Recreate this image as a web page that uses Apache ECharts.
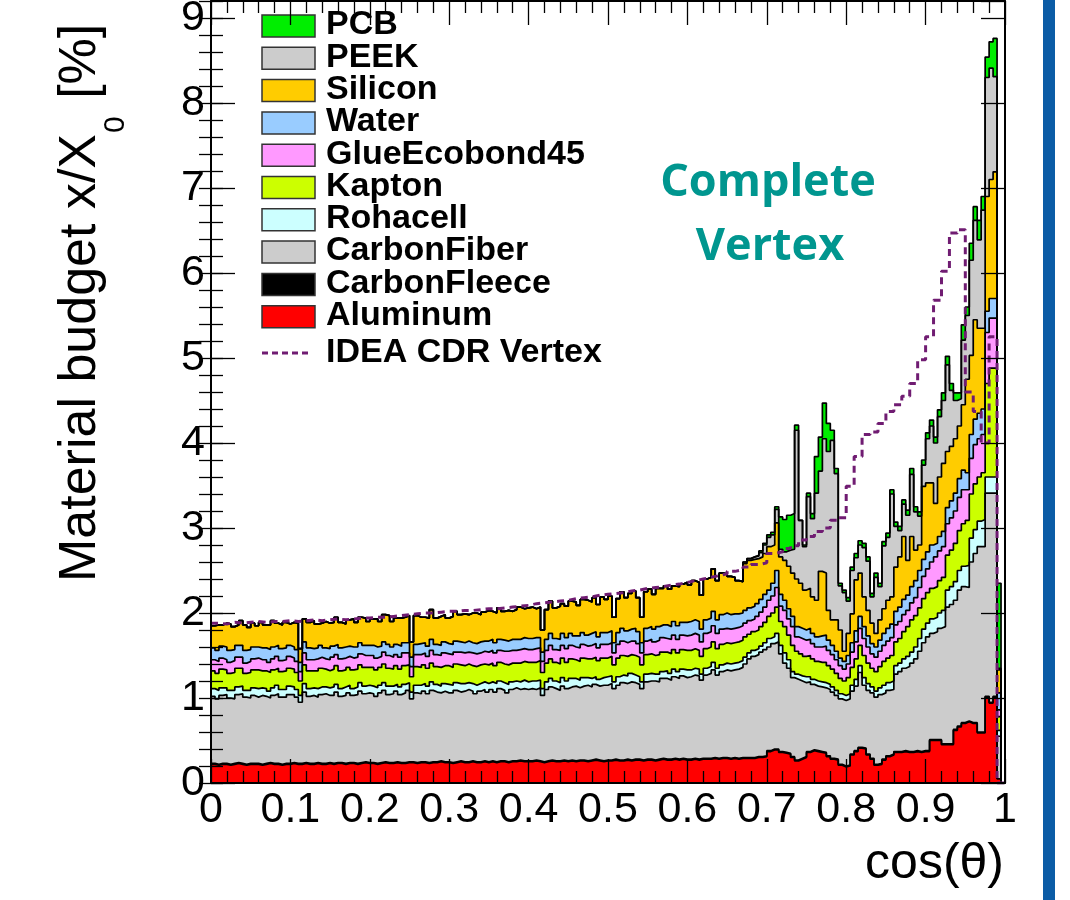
<!DOCTYPE html>
<html><head><meta charset="utf-8">
<script src="https://cdn.jsdelivr.net/npm/echarts@6/dist/echarts.min.js"></script>
<style>html,body{margin:0;padding:0;background:#fff}#chart{width:1070px;height:900px}</style>
</head><body><div id="chart"></div>
<script>
// ---- data: 200 bins of width 0.005 in cos(theta) ----
const binWidth = 0.005;
const xTickLabels = ['0','0.1','0.2','0.3','0.4','0.5','0.6','0.7','0.8','0.9','1'];
const yTickLabels = ['0','1','2','3','4','5','6','7','8','9'];
const legendNames = ['PCB','PEEK','Silicon','Water','GlueEcobond45','Kapton','Rohacell','CarbonFiber','CarbonFleece','Aluminum'];
const legendColors = ['#00ee00','#cccccc','#ffcc00','#99ccff','#ff99ff','#ccff00','#ccffff','#cccccc','#000000','#ff0000'];

const aluminum = [
.22,.21,.22,.22,.21,.22,.23,.22,.21,.22,
.22,.22,.21,.22,.23,.22,.22,.21,.22,.22,
.23,.22,.22,.23,.22,.22,.23,.22,.22,.23,
.22,.23,.23,.22,.23,.23,.22,.23,.24,.23,
.23,.22,.23,.24,.23,.23,.24,.23,.23,.24,
.24,.23,.24,.24,.23,.24,.24,.25,.24,.24,
.23,.24,.25,.24,.24,.25,.24,.24,.25,.24,
.25,.24,.25,.25,.24,.25,.25,.26,.25,.25,
.25,.26,.25,.24,.25,.26,.25,.25,.26,.25,
.26,.25,.26,.26,.25,.26,.27,.26,.25,.26,
.26,.27,.26,.26,.27,.26,.27,.27,.26,.27,
.27,.26,.27,.28,.27,.27,.28,.27,.28,.27,
.27,.28,.27,.28,.28,.28,.29,.28,.29,.29,
.28,.29,.28,.29,.29,.29,.29,.30,.30,.31,
.37,.39,.39,.36,.35,.34,.30,.26,.28,.30,
.36,.38,.37,.36,.35,.31,.28,.27,.21,.19,
.20,.33,.37,.41,.40,.33,.28,.21,.22,.27,
.31,.33,.36,.36,.37,.36,.36,.37,.36,.37,
.37,.50,.50,.50,.45,.45,.45,.62,.66,.70,
.72,.70,.70,.59,.59,1.01,.94,1.01,.05,0];

const carbonFleece = [
.01,.01,.01,.01,.01,.01,.01,.01,.01,.01,
.01,.01,.01,.01,.01,.01,.01,.01,.01,.01,
.01,.01,.01,.01,.01,.01,.01,.01,.01,.01,
.01,.01,.01,.01,.01,.01,.01,.01,.01,.01,
.01,.01,.01,.01,.01,.01,.01,.01,.01,.01,
.01,.01,.01,.01,.01,.01,.01,.01,.01,.01,
.01,.01,.01,.01,.01,.01,.01,.01,.01,.01,
.01,.01,.01,.01,.01,.01,.01,.01,.01,.01,
.01,.01,.01,.01,.01,.01,.01,.01,.01,.01,
.01,.01,.01,.01,.01,.01,.01,.01,.01,.01,
.01,.01,.01,.01,.01,.01,.01,.01,.01,.01,
.01,.01,.01,.01,.01,.01,.01,.01,.01,.01,
.01,.01,.01,.01,.01,.01,.01,.01,.01,.01,
.01,.01,.01,.01,.01,.01,.01,.01,.01,.01,
.01,.01,.01,.01,.01,.01,.01,.01,.01,.01,
.01,.01,.01,.01,.01,.01,.01,.01,.01,.01,
.01,.01,.01,.01,.01,.01,.01,.01,.01,.01,
.01,.01,.01,.01,.01,.01,.01,.01,.01,.01,
.01,.01,.01,.01,.01,.01,.01,.01,.01,.01,
.01,.01,.01,.01,.01,.01,.01,.01,0,0];

const carbonFiber = [
.79,.77,.80,.81,.78,.76,.80,.82,.79,.77,
.80,.78,.81,.79,.76,.80,.82,.79,.78,.81,
.80,.78,.72,.83,.79,.80,.77,.81,.82,.79,
.80,.83,.78,.80,.82,.79,.81,.84,.80,.82,
.81,.79,.82,.84,.80,.81,.83,.80,.82,.84,
.74,.82,.80,.83,.81,.84,.82,.80,.83,.81,
.82,.84,.81,.83,.85,.82,.80,.83,.84,.82,
.84,.82,.85,.83,.81,.84,.86,.83,.85,.84,
.85,.83,.86,.78,.84,.86,.85,.83,.87,.85,
.86,.88,.85,.87,.89,.86,.88,.87,.89,.88,
.90,.83,.88,.91,.89,.92,.90,.88,.84,.91,
.92,.93,.91,.94,.95,.93,.96,.95,.97,.96,
.97,.98,.98,.92,.98,1.00,1.03,.98,1.01,1.03,
1.03,1.03,1.05,1.06,1.10,1.16,1.19,1.20,1.23,1.25,
1.22,1.24,1.26,1.15,1.05,1.00,.93,.95,.91,.87,
.82,.77,.76,.76,.76,.78,.78,.75,.77,.77,
.78,.74,.76,.88,.74,.75,.77,.79,.81,.78,
.77,.76,.91,.94,.97,1.00,1.04,1.08,1.18,1.27,
1.34,1.25,1.27,1.31,1.38,1.61,1.64,1.52,1.60,1.60,
1.57,1.89,1.99,2.18,2.18,2.39,2.46,2.39,.50,0];

const rohacell = [
.09,.10,.09,.08,.09,.10,.09,.09,.08,.09,
.09,.10,.09,.09,.08,.09,.10,.09,.09,.10,
.09,.09,.08,.10,.09,.09,.10,.09,.08,.09,
.10,.09,.09,.10,.09,.08,.09,.10,.09,.09,
.09,.10,.09,.09,.10,.09,.08,.09,.10,.09,
.08,.09,.10,.09,.09,.10,.09,.08,.09,.10,
.09,.09,.10,.09,.08,.09,.10,.09,.09,.10,
.09,.10,.09,.09,.10,.09,.08,.09,.10,.09,
.09,.10,.09,.08,.09,.10,.09,.09,.10,.09,
.10,.09,.09,.10,.09,.10,.09,.08,.09,.10,
.09,.08,.10,.09,.09,.10,.09,.09,.08,.09,
.09,.08,.09,.08,.09,.08,.09,.08,.08,.09,
.08,.08,.08,.07,.08,.08,.09,.08,.08,.08,
.08,.08,.08,.08,.08,.07,.07,.07,.07,.08,
.10,.08,.10,.10,.12,.10,.07,.06,.06,.07,
.06,.06,.06,.06,.06,.06,.06,.06,.06,.06,
.06,.07,.08,.08,.09,.08,.07,.07,.08,.09,
.09,.10,.10,.10,.11,.12,.13,.14,.15,.16,
.16,.17,.17,.18,.19,.20,.21,.22,.23,.24,
.26,.28,.28,.30,.32,.19,.19,.19,.07,0];

const kapton = [
.21,.20,.22,.21,.20,.21,.22,.21,.20,.21,
.21,.22,.20,.21,.22,.21,.20,.21,.22,.21,
.21,.20,.17,.22,.21,.20,.21,.22,.21,.20,
.21,.22,.21,.20,.21,.22,.21,.21,.22,.21,
.22,.21,.21,.22,.21,.20,.22,.21,.22,.21,
.18,.22,.21,.22,.21,.22,.21,.22,.21,.22,
.21,.22,.22,.21,.22,.21,.22,.22,.21,.22,
.22,.21,.22,.22,.23,.22,.21,.22,.22,.23,
.22,.22,.23,.19,.22,.23,.22,.22,.23,.22,
.23,.22,.22,.23,.22,.23,.23,.22,.23,.22,
.23,.20,.22,.23,.23,.22,.23,.23,.20,.23,
.23,.22,.23,.23,.22,.23,.23,.22,.23,.23,
.23,.23,.22,.21,.23,.23,.24,.23,.24,.24,
.24,.24,.24,.24,.24,.22,.22,.22,.23,.24,
.26,.28,.31,.28,.31,.29,.31,.27,.26,.24,
.25,.24,.23,.23,.24,.22,.21,.20,.18,.17,
.19,.21,.24,.24,.26,.24,.22,.23,.25,.28,
.29,.30,.28,.29,.32,.35,.38,.37,.36,.36,
.36,.36,.36,.38,.39,.41,.43,.45,.47,.50,
.53,.52,.54,.52,.55,1.10,1.28,1.28,.16,0];

const glueEcobond45 = [
.13,.14,.13,.12,.13,.14,.13,.13,.12,.13,
.13,.14,.13,.13,.12,.13,.14,.13,.13,.14,
.13,.13,.11,.14,.13,.13,.14,.13,.12,.13,
.14,.13,.14,.14,.13,.14,.14,.13,.14,.14,
.14,.14,.13,.14,.15,.14,.13,.14,.15,.14,
.12,.14,.15,.14,.14,.15,.14,.14,.15,.14,
.15,.14,.15,.15,.14,.15,.15,.14,.15,.15,
.15,.15,.14,.15,.16,.15,.15,.16,.15,.15,
.15,.16,.15,.13,.15,.16,.15,.16,.15,.16,
.16,.15,.16,.16,.15,.16,.16,.15,.16,.16,
.16,.14,.16,.17,.16,.16,.17,.16,.14,.16,
.17,.16,.17,.17,.16,.17,.17,.16,.17,.17,
.18,.18,.18,.17,.18,.18,.19,.18,.18,.17,
.17,.17,.17,.17,.16,.16,.15,.16,.17,.18,
.19,.20,.23,.18,.19,.19,.22,.17,.18,.19,
.19,.18,.17,.18,.19,.18,.17,.16,.15,.14,
.16,.18,.20,.20,.20,.19,.17,.17,.18,.19,
.20,.21,.20,.20,.20,.19,.20,.21,.24,.26,
.28,.31,.35,.35,.36,.37,.38,.38,.39,.40,
.36,.42,.46,.45,.45,.60,.59,.59,.08,0];

const water = [
.14,.13,.14,.15,.14,.13,.14,.14,.15,.14,
.14,.13,.14,.14,.15,.14,.13,.14,.14,.13,
.13,.14,.11,.13,.14,.13,.13,.14,.13,.13,
.13,.12,.13,.13,.12,.13,.12,.13,.12,.12,
.12,.13,.12,.12,.13,.12,.12,.13,.12,.12,
.11,.12,.13,.12,.12,.13,.12,.12,.13,.12,
.12,.13,.12,.12,.13,.12,.12,.13,.12,.13,
.13,.12,.13,.13,.12,.13,.13,.12,.13,.13,
.13,.13,.12,.11,.13,.14,.13,.13,.14,.13,
.14,.13,.14,.14,.13,.14,.14,.13,.14,.14,
.14,.12,.14,.15,.14,.14,.15,.14,.12,.15,
.15,.15,.16,.15,.16,.15,.16,.16,.15,.16,
.16,.16,.16,.15,.16,.16,.17,.16,.17,.18,
.17,.17,.16,.15,.15,.15,.15,.15,.15,.15,
.12,.15,.20,.14,.12,.12,.12,.12,.12,.12,
.13,.12,.12,.13,.13,.12,.11,.10,.09,.09,
.10,.11,.13,.14,.14,.13,.12,.12,.13,.14,
.15,.16,.16,.17,.18,.18,.19,.20,.20,.20,
.20,.20,.16,.17,.18,.19,.20,.21,.22,.23,
.20,.28,.30,.30,.30,.25,.23,.23,.20,0];

const silicon = [
.26,.30,.25,.28,.31,.27,.24,.29,.30,.26,
.28,.25,.30,.27,.29,.31,.26,.28,.30,.25,
.29,.31,.16,.27,.30,.33,.28,.26,.31,.30,
.28,.32,.30,.27,.31,.33,.29,.30,.32,.28,
.31,.33,.29,.32,.34,.30,.31,.33,.30,.32,
.18,.34,.31,.30,.33,.35,.31,.34,.32,.30,
.33,.35,.32,.34,.31,.35,.36,.32,.34,.36,
.33,.35,.37,.34,.36,.33,.35,.38,.34,.36,
.37,.34,.36,.26,.35,.38,.36,.39,.35,.37,
.38,.40,.36,.39,.41,.37,.40,.38,.42,.39,
.41,.30,.40,.43,.39,.42,.44,.40,.30,.43,
.44,.41,.45,.43,.46,.44,.42,.46,.45,.47,
.43,.46,.46,.40,.48,.48,.50,.46,.49,.46,
.45,.43,.39,.37,.55,.56,.55,.53,.50,.48,
.51,.45,.56,.44,.47,.50,.51,.56,.53,.47,
.47,.43,.43,.76,.73,.35,.30,.37,.33,.12,
.26,.34,.60,.51,.35,.30,.24,.16,.24,.29,
.33,.32,.52,.59,.74,.41,.59,.36,.30,.86,
.81,.73,.47,.70,.80,.66,.64,.64,.62,.77,
1.10,.93,1.17,1.00,.95,1.35,1.40,1.49,.27,0];

const peek = [
0,0,0,0,0,0,0,0,0,0, 0,0,0,0,0,0,0,0,0,0,
0,0,0,0,0,0,0,0,0,0, 0,0,0,0,0,0,0,0,0,0,
0,0,0,0,0,0,0,0,0,0, 0,0,0,0,0,0,0,0,0,0,
0,0,0,0,0,0,0,0,0,0, 0,0,0,0,0,0,0,0,0,0,
0,0,0,0,0,0,0,0,0,0, 0,0,0,0,0,0,0,0,0,0,
0,0,0,0,0,0,0,0,0,0, 0,0,0,0,0,0,0,0,0,0,
0,0,0,0,0,0,0,0,0,0,
0,0,0,0,.02,.02,.03,.03,.05,.10,
.11,.12,.16,.09,.10,.19,.28,1.75,.74,.51,
1.08,.92,1.26,1.18,1.58,1.87,2.11,1.72,.52,.69,
.38,.51,.26,.33,.58,.58,.31,.66,.39,.74,
.74,1.21,.48,.31,.38,.53,.73,.45,.34,.25,
.52,.67,.71,.71,.74,1.02,.66,.45,.32,.76,
.75,1.12,1.17,1.04,1.39,1.40,1.31,1.12,.02,0];

const pcb = [
0,0,0,0,0,0,0,0,0,0, 0,0,0,0,0,0,0,0,0,0,
0,0,0,0,0,0,0,0,0,0, 0,0,0,0,0,0,0,0,0,0,
0,0,0,0,0,0,0,0,0,0, 0,0,0,0,0,0,0,0,0,0,
0,0,0,0,0,0,0,0,0,0, 0,0,0,0,0,0,0,0,0,0,
0,0,0,0,0,0,0,0,0,0, 0,0,0,0,0,0,0,0,0,0,
0,0,0,0,0,0,0,0,0,0, 0,0,0,0,0,0,0,0,0,0,
0,0,0,0,0,0,0,0,0,0,
0,0,0,0,0,0,0,.01,.02,.02,
.03,.03,.03,.38,.38,.41,.42,.06,0,.02,
.04,.06,.43,.40,.42,.33,.12,.06,.03,.03,
.04,.04,.05,.05,.05,.05,.04,.05,.04,.05,
.05,.05,.05,.05,.05,.06,.07,.06,.05,.06,
.07,.07,.07,.08,.09,.10,.08,.09,.07,.18,
.10,.20,.16,.23,.16,.24,.31,.45,1.00,0];

// IDEA CDR Vertex reference: 100 bins of width 0.01
const ideaBinWidth = 0.01;
const ideaCDR = [
1.88,1.87,1.89,1.88,1.89,1.90,1.89,1.90,1.90,1.91,
1.90,1.91,1.92,1.91,1.92,1.93,1.92,1.93,1.94,1.94,
1.95,1.95,1.96,1.97,1.98,1.99,2.00,2.00,2.01,2.02,
2.02,2.03,2.03,2.04,2.05,2.05,2.06,2.07,2.08,2.09,
2.11,2.12,2.13,2.14,2.15,2.17,2.18,2.19,2.21,2.22,
2.23,2.24,2.26,2.27,2.29,2.30,2.31,2.33,2.34,2.36,
2.38,2.40,2.42,2.44,2.46,2.49,2.51,2.54,2.57,2.59,
2.70,2.72,2.76,2.79,2.86,2.90,2.96,3.00,3.09,3.12,
3.49,3.84,4.10,4.13,4.23,4.37,4.45,4.55,4.70,4.98,
5.25,5.68,6.02,6.47,6.51,4.60,4.37,4.00,5.25,0];

// ---- build ----
const layersBottomUp = [aluminum, carbonFleece, carbonFiber, rohacell, kapton, glueEcobond45, water, silicon, peek, pcb];
const colorsBottomUp = legendColors.slice().reverse();
const namesBottomUp = legendNames.slice().reverse();
const nBins = aluminum.length;
const cumulative = [];
let running = new Array(nBins).fill(0);
layersBottomUp.forEach(arr => {
  running = running.map((v, i) => Math.round((v + arr[i]) * 1000) / 1000);
  cumulative.push(running);
});
function stepData(vals, w) {
  const d = vals.map((v, i) => [Math.round(i * w * 10000) / 10000, v]);
  d.push([Math.round(vals.length * w * 10000) / 10000, vals[vals.length - 1]]);
  return d;
}
const series = [];
for (let k = layersBottomUp.length - 1; k >= 0; k--) {
  series.push({
    type: 'line', name: namesBottomUp[k], step: 'end', showSymbol: false, symbol: 'none',
    silent: true, animation: false, data: stepData(cumulative[k], binWidth),
    lineStyle: {color: '#000', width: 1.7},
    areaStyle: {color: colorsBottomUp[k], opacity: 1}
  });
}
series.push({
  type: 'line', name: 'IDEA CDR Vertex', step: 'end', showSymbol: false, symbol: 'none',
  silent: true, animation: false, z: 5, data: stepData(ideaCDR, ideaBinWidth),
  lineStyle: {color: '#701c72', width: 3, type: [7, 5]}
});

const FONT = '"Liberation Sans", Arial, Helvetica, sans-serif';
const tickStyle = {color: '#000', width: 1.3};
const frameLine = {show: true, onZero: false, lineStyle: {color: '#000', width: 2}};
const xBase = {type: 'value', min: 0, max: 1, interval: 0.1, z: 10, splitLine: {show: false},
  axisLine: frameLine, axisTick: {show: true, inside: true, length: 24, lineStyle: tickStyle},
  minorTick: {show: true, splitNumber: 5, length: 12, lineStyle: tickStyle}, minorSplitLine: {show: false}};
const yBase = {type: 'value', min: 0, max: 9.2, z: 10, splitLine: {show: false}};

// text measurement for y title pieces
const mctx = document.createElement('canvas').getContext('2d');
function tw(t, f) { mctx.font = f; return mctx.measureText(t).width; }
const titleFont = '52px ' + FONT;
const subFont = '30px ' + FONT;
const wMain = tw('Material budget x/X', titleFont);
const wSub = tw('0', subFont);

const graphics = [
  {type: 'rect', shape: {x: 1043, y: 0, width: 12, height: 900}, style: {fill: '#0b5ca6'}},
  {type: 'group', x: 81, y: 582, rotation: Math.PI / 2, children: [
    {type: 'text', x: 0, y: 0, style: {text: 'Material budget x/X', font: titleFont, fill: '#000', align: 'left', verticalAlign: 'middle'}},
    {type: 'text', x: wMain + 1, y: 35, style: {text: '0', font: subFont, fill: '#000', align: 'left', verticalAlign: 'middle'}},
    {type: 'text', x: wMain + wSub + 4, y: 0, style: {text: ' [%]', font: titleFont, fill: '#000', align: 'left', verticalAlign: 'middle'}}
  ]},
  {type: 'text', x: 1004, y: 864, style: {text: 'cos(θ)', font: '50px ' + FONT, fill: '#000', align: 'right', verticalAlign: 'middle'}},
  {type: 'text', x: 768, y: 183, style: {text: 'Complete', font: 'bold 45px "Open Sans", sans-serif', fill: '#00968f', align: 'center', verticalAlign: 'middle'}},
  {type: 'text', x: 770, y: 247, style: {text: 'Vertex', font: 'bold 45px "Open Sans", sans-serif', fill: '#00968f', align: 'center', verticalAlign: 'middle'}}
];
legendNames.forEach((n, k) => {
  graphics.push({type: 'rect', shape: {x: 262, y: 15 + 32.3 * k, width: 53, height: 22},
    style: {fill: legendColors[k], stroke: '#333', lineWidth: 1.5}});
  graphics.push({type: 'text', x: 326, y: 25 + 32.3 * k,
    style: {text: n, font: 'bold 34px ' + FONT, fill: '#000', align: 'left', verticalAlign: 'middle'}});
});
graphics.push({type: 'line', shape: {x1: 262, y1: 353, x2: 312, y2: 353}, style: {stroke: '#701c72', lineWidth: 3, lineDash: [6, 4]}});
graphics.push({type: 'text', x: 326, y: 353, style: {text: 'IDEA CDR Vertex', font: 'bold 34px ' + FONT, fill: '#000', align: 'left', verticalAlign: 'middle'}});

const chart = echarts.init(document.getElementById('chart'), null, {renderer: 'canvas'});
chart.setOption({
  animation: false,
  backgroundColor: '#fff',
  grid: {left: 211, right: 65, top: 1, bottom: 117, outerBoundsMode: 'none'},
  xAxis: [
    Object.assign({}, xBase, {position: 'bottom', axisLabel: {show: true, fontSize: 43, fontFamily: FONT, color: '#000', margin: 6,
      formatter: v => xTickLabels[Math.round(v * 10)] || ''}}),
    Object.assign({}, xBase, {position: 'top', axisLabel: {show: false}})
  ],
  yAxis: [
    Object.assign({}, yBase, {position: 'left', interval: 1, axisLine: frameLine,
      axisTick: {show: true, inside: true, length: 24, lineStyle: tickStyle},
      axisLabel: {show: true, fontSize: 43, fontFamily: FONT, color: '#000', margin: 6, showMaxLabel: false,
        formatter: v => (Math.abs(v - Math.round(v)) < 1e-6 ? (yTickLabels[Math.round(v)] || '') : '')}}),
    Object.assign({}, yBase, {position: 'left', interval: 0.2, axisLine: {show: false},
      axisTick: {show: true, inside: true, length: 12, lineStyle: tickStyle}, axisLabel: {show: false}}),
    Object.assign({}, yBase, {position: 'right', interval: 1, axisLine: frameLine,
      axisTick: {show: true, inside: true, length: 24, lineStyle: tickStyle}, axisLabel: {show: false}}),
    Object.assign({}, yBase, {position: 'right', interval: 0.2, axisLine: {show: false},
      axisTick: {show: true, inside: true, length: 12, lineStyle: tickStyle}, axisLabel: {show: false}})
  ],
  series: series,
  graphic: graphics
});
</script></body></html>
